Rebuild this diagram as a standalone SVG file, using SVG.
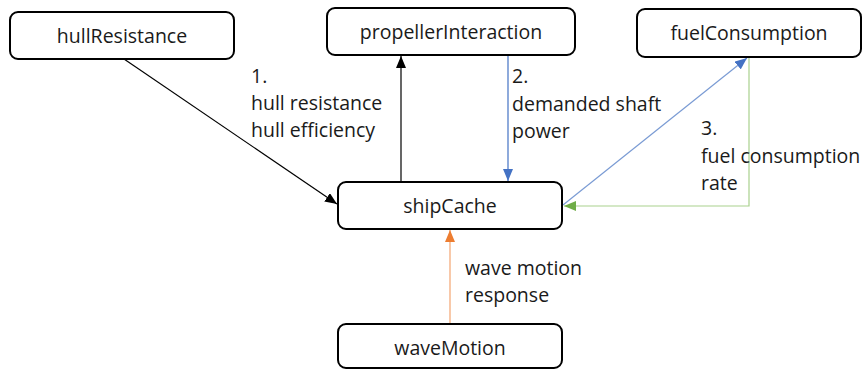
<svg xmlns="http://www.w3.org/2000/svg" width="866" height="369" viewBox="0 0 866 369">
  <style>
    .box { fill: #ffffff; stroke: #000000; stroke-width: 2; }
    .name { font-family: "Open Sans", "Liberation Sans", sans-serif; font-size: 19.5px; fill: #1a1a1a; text-anchor: middle; }
    .lbl { font-family: "Open Sans", "Liberation Sans", sans-serif; font-size: 19.5px; fill: #1a1a1a; }
    .ln { fill: none; stroke-width: 1.2; }
  </style>
  <defs>
    <marker id="ahBlack" viewBox="0 0 12 10" refX="12" refY="5" markerWidth="12" markerHeight="10" markerUnits="userSpaceOnUse" orient="auto">
      <path d="M0,0 L12,5 L0,10 z" fill="#000000"/>
    </marker>
    <marker id="ahBlue" viewBox="0 0 12 10" refX="12" refY="5" markerWidth="12" markerHeight="10" markerUnits="userSpaceOnUse" orient="auto">
      <path d="M0,0 L12,5 L0,10 z" fill="#4472C4"/>
    </marker>
    <marker id="ahGreen" viewBox="0 0 12 10" refX="12" refY="5" markerWidth="12" markerHeight="10" markerUnits="userSpaceOnUse" orient="auto">
      <path d="M0,0 L12,5 L0,10 z" fill="#70AD47"/>
    </marker>
    <marker id="ahOrange" viewBox="0 0 12 10" refX="12" refY="5" markerWidth="12" markerHeight="10" markerUnits="userSpaceOnUse" orient="auto">
      <path d="M0,0 L12,5 L0,10 z" fill="#ED7D31"/>
    </marker>
  </defs>

  <rect width="866" height="369" fill="#ffffff"/>

  <!-- connectors -->
  <g id="connectors">
    <line class="ln" x1="124" y1="59" x2="337" y2="204" stroke="#000000" marker-end="url(#ahBlack)"/>
    <line class="ln" x1="401" y1="182" x2="401" y2="56" stroke="#000000" marker-end="url(#ahBlack)"/>
    <line class="ln" x1="508" y1="55" x2="508" y2="181" stroke="#4472C4" marker-end="url(#ahBlue)"/>
    <line class="ln" x1="563" y1="205" x2="747" y2="58" stroke="#7A9BD4" marker-end="url(#ahBlue)"/>
    <polyline class="ln" points="749,57 749,206 564,206" stroke="#A9D18E" marker-end="url(#ahGreen)"/>
    <line class="ln" x1="450" y1="324" x2="450" y2="230" stroke="#F3A470" stroke-width="1.5" marker-end="url(#ahOrange)"/>
  </g>

  <!-- connector labels -->
  <g id="labels">
    <text class="lbl" x="251" y="83">1.</text>
    <text class="lbl" x="251" y="110">hull resistance</text>
    <text class="lbl" x="251" y="137">hull efficiency</text>

    <text class="lbl" x="512" y="83">2.</text>
    <text class="lbl" x="512" y="111">demanded shaft</text>
    <text class="lbl" x="512" y="138">power</text>

    <text class="lbl" x="701" y="135">3.</text>
    <text class="lbl" x="701" y="163">fuel consumption</text>
    <text class="lbl" x="701" y="190">rate</text>

    <text class="lbl" x="465" y="275">wave motion</text>
    <text class="lbl" x="465" y="302">response</text>
  </g>

  <!-- nodes -->
  <g id="hullResistance">
    <rect class="box" x="10" y="12" width="224" height="47" rx="8"/>
    <text class="name" x="122" y="43">hullResistance</text>
  </g>
  <g id="propellerInteraction">
    <rect class="box" x="327" y="8" width="248" height="47" rx="8"/>
    <text class="name" x="451" y="39">propellerInteraction</text>
  </g>
  <g id="fuelConsumption">
    <rect class="box" x="637" y="9" width="224" height="48" rx="8"/>
    <text class="name" x="749" y="40">fuelConsumption</text>
  </g>
  <g id="shipCache">
    <rect class="box" x="338" y="182" width="224" height="47" rx="8"/>
    <text class="name" x="450" y="213">shipCache</text>
  </g>
  <g id="waveMotion">
    <rect class="box" x="338" y="324" width="224" height="44" rx="8"/>
    <text class="name" x="450" y="355">waveMotion</text>
  </g>
</svg>
